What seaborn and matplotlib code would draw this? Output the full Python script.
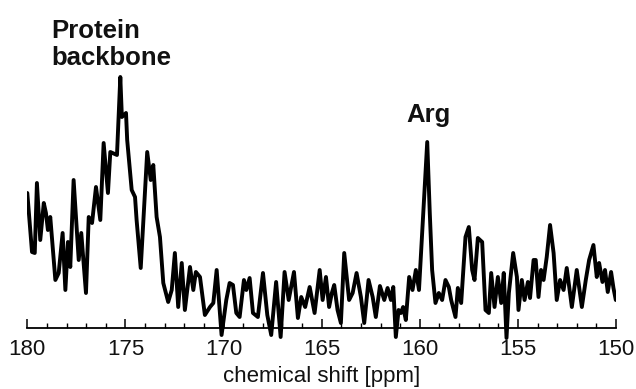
import pandas as pd
import numpy as np
import matplotlib
matplotlib.use('Agg')
import matplotlib.pyplot as plt
import seaborn as sns

# Espectro: desplazamiento quimico (ppm) e intensidad (u.a.)
ppm = [180.00, 179.76, 179.62, 179.51, 179.34, 179.16, 179.05, 178.95, 178.83, 178.57,
       178.40, 178.20, 178.06, 177.93, 177.81, 177.64, 177.38, 177.25, 177.01, 176.87,
       176.70, 176.50, 176.28, 176.11, 175.89, 175.77, 175.43, 175.26, 175.18, 174.97,
       174.91, 174.68, 174.51, 174.43, 174.22, 173.89, 173.71, 173.58, 173.41, 173.24,
       173.07, 172.82, 172.64, 172.48, 172.31, 172.13, 171.97, 171.71, 171.54, 171.41,
       171.20, 170.95, 170.69, 170.52, 170.35, 170.10, 169.86, 169.69, 169.52, 169.35,
       169.18, 168.96, 168.84, 168.67, 168.50, 168.25, 167.99, 167.77, 167.57, 167.32,
       167.09, 166.89, 166.68, 166.41, 166.21, 166.04, 165.84, 165.61, 165.36, 165.10,
       164.95, 164.78, 164.62, 164.48, 164.36, 164.19, 164.02, 163.85, 163.60, 163.42,
       163.22, 163.00, 162.83, 162.61, 162.40, 162.24, 162.03, 161.81, 161.64, 161.47,
       161.35, 161.22, 161.08, 160.96, 160.85, 160.71, 160.54, 160.37, 160.20, 160.04,
       159.79, 159.62, 159.49, 159.37, 159.20, 159.03, 158.86, 158.69, 158.52, 158.40,
       158.18, 158.06, 157.89, 157.67, 157.50, 157.33, 157.21, 157.04, 156.82, 156.65,
       156.48, 156.36, 156.19, 156.02, 155.85, 155.72, 155.58, 155.46, 155.24, 155.05,
       154.97, 154.80, 154.66, 154.49, 154.38, 154.20, 154.09, 153.95, 153.82, 153.69,
       153.53, 153.36, 153.18, 153.02, 152.85, 152.67, 152.51, 152.25, 152.00, 151.74,
       151.54, 151.37, 151.15, 150.98, 150.86, 150.69, 150.56, 150.42, 150.25, 150.13,
       150.01]
intensidad = [137, 78, 77, 147, 90, 127, 117, 100, 113, 50,
              57, 97, 40, 88, 63, 150, 70, 97, 37, 113,
              107, 143, 110, 187, 137, 178, 175, 253, 213, 217,
              190, 140, 133, 110, 62, 178, 150, 165, 113, 93,
              47, 28, 40, 77, 23, 67, 20, 63, 40, 58,
              53, 15, 23, 27, 60, -5, 30, 47, 45, 17,
              13, 50, 40, 52, 17, 13, 57, 15, -5, 48,
              -7, 58, 30, 58, 12, 33, 23, 43, 17, 60,
              30, 53, 23, 37, 45, 20, 7, 77, 30, 37,
              57, 33, 7, 50, 33, 13, 44, 30, 42, 30,
              43, -7, 20, 17, 23, 10, 53, 40, 60, 40,
              127, 188, 117, 60, 27, 37, 30, 50, 43, 30,
              13, 42, 27, 93, 103, 60, 50, 92, 88, 20,
              17, 57, 23, 53, 27, 57, -8, 37, 77, 53,
              20, 50, 30, 48, 32, 70, 70, 33, 60, 50,
              73, 105, 77, 30, 50, 40, 62, 23, 60, 23,
              50, 70, 85, 53, 67, 48, 60, 38, 58, 42,
              30]

major_ticks = [180, 175, 170, 165, 160, 155, 150]
minor_ticks = list(range(150, 181))

df = pd.DataFrame({'ppm': ppm, 'intensidad': intensidad})

sns.set_style('white')
plt.rcParams['font.family'] = ['Liberation Sans', 'DejaVu Sans']

fig = plt.figure(figsize=(6.36, 3.89), dpi=100)
ax = fig.add_axes([27.3 / 636, 49 / 389, 588.7 / 636, 280 / 389])

sns.lineplot(data=df, x='ppm', y='intensidad', sort=False, estimator=None,
             color='black', linewidth=2.8, ax=ax)

ax.set_xlim(180, 150)
ax.set_ylim(-10, 270)

for lado in ['top', 'right', 'left']:
    ax.spines[lado].set_visible(False)
ax.spines['bottom'].set_position(('data', 2))
ax.spines['bottom'].set_linewidth(1.3)
ax.spines['bottom'].set_color('black')

ax.set_xticks(major_ticks)
ax.set_xticks(minor_ticks, minor=True)
ax.tick_params(axis='x', which='major', direction='in', length=6.5, width=1.1,
               labelsize=16, pad=8, bottom=True, color='black', labelcolor='#111111')
ax.tick_params(axis='x', which='minor', direction='in', length=3.5, width=1.0,
               bottom=True, color='black')
ax.set_yticks([])
ax.set_ylabel('')
ax.set_xlabel('chemical shift [ppm]', fontsize=16, labelpad=4, color='#111111')

# 'baseline' con dos lineas alinea la ultima linea
ax.text(178.76, 265, 'Protein\nbackbone', fontsize=18.5, fontweight='bold',
        ha='left', va='baseline', linespacing=1.15, clip_on=False, color='#111111')
ax.text(160.67, 208, 'Arg', fontsize=18.5, fontweight='bold',
        ha='left', va='baseline', clip_on=False, color='#111111')

fig.savefig('out.png', dpi=100)
